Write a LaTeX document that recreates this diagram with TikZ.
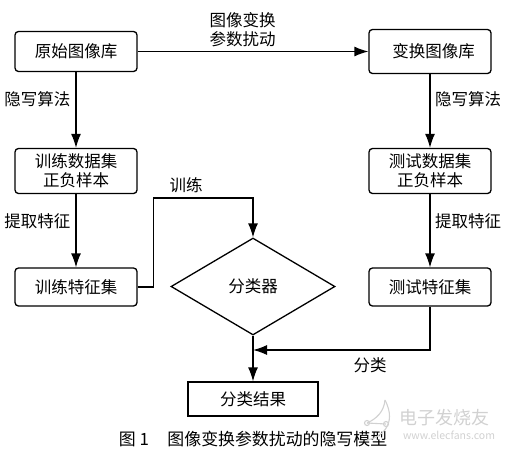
\documentclass[tikz,border=0pt]{standalone}
\usepackage{fontspec}
\setmainfont{Noto Sans CJK SC}
\usetikzlibrary{arrows.meta,shapes.geometric}
\tikzset{
  every node/.style={font=\fontsize{16.5}{19}\selectfont,inner sep=0pt,align=center},
  flowbox/.style={draw,line width=1.3pt,rounded corners=3.5pt,minimum width=122pt},
  plainbox/.style={draw,line width=1.3pt,minimum width=130pt,minimum height=34pt},
  link/.style={draw,line width=1.3pt,-{Latex[length=14pt,width=10pt]}},
  wmark/.style={text=black!18},
  wline/.style={draw=black!18,line width=1.1pt},
}
\begin{document}
\begin{tikzpicture}[x=1pt,y=-1pt]
\useasboundingbox (0,0) rectangle (506,451);
\node[flowbox,minimum height=40pt] (src) at (76,51.5) {原始图像库};
\node[flowbox,minimum height=44pt] (trans) at (430,51.5) {\hspace{7pt}变换图像库};
\node[flowbox,minimum height=45pt] (train) at (76,171) {训练数据集\\正负样本};
\node[flowbox,minimum height=45pt] (test) at (430,171) {测试数据集\\正负样本};
\node[flowbox,minimum height=38pt] (trainf) at (76,287) {训练特征集};
\node[flowbox,minimum height=38pt] (testf) at (430,287) {测试特征集};
\node[draw,diamond,line width=1.3pt,aspect=1.69,minimum width=164pt,minimum height=97pt] (clf) at (253,286.5) {分类器};
\node[plainbox] (res) at (253,399) {分类结果};
\coordinate (join) at (253,350);
\coordinate (turn) at (153.5,198);
\path[link] (src) -- (trans);
\path[link] (src) -- (train);
\path[link] (train) -- (trainf);
\path[link] (trans) -- (test);
\path[link] (test) -- (testf);
\path[link] (trainf.east) -| (turn) -| (clf.north);
\path[link] (testf.south) |- (join);
\path[link] (clf.south) -- (res.north);
\node (l1) at (242.5,30) {图像变换\\参数扰动};
\node (l2) at (37.5,99) {隐写算法};
\node (l3) at (468,99) {隐写算法};
\node (l4) at (37.5,221) {提取特征};
\node (l5) at (468,221) {提取特征};
\node (l6) at (186,185) {训练};
\node (l7) at (370,365) {分类};
\node[font=\fontsize{16.9}{19}\selectfont] (cap) at (253,439) {图 1\hspace{1.1em}图像变换参数扰动的隐写模型};
\path[wline] (385,400) .. controls (398,425) and (380,438) .. (367,440);
\path[wline] (367,423) .. controls (376,419) and (384,412) .. (385,400);
\path[wline] (367,423) circle (2.5);
\path[wline] (386,424) circle (2.5);
\path[wline] (367,423) -- (386,424);
\node[wmark,font=\fontsize{18}{18}\selectfont] (wm1) at (444,418) {电子发烧友};
\node[wmark,font=\fontsize{10.5}{10.5}\selectfont] (wm2) at (449,435) {www.elecfans.com};
\end{tikzpicture}
\end{document}
